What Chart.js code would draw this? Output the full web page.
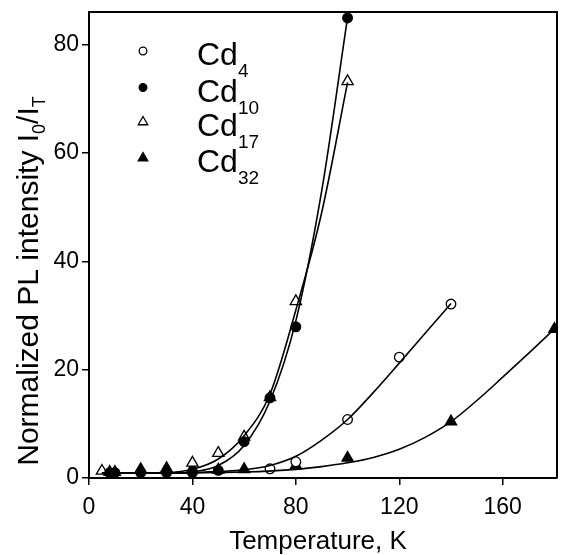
<!DOCTYPE html>
<html><head><meta charset="utf-8">
<script src="https://cdn.jsdelivr.net/npm/chart.js@4.4.1/dist/chart.umd.min.js"></script>
<style>html,body{margin:0;padding:0;background:#fff}#wrap{width:561px;height:555px}</style>
</head><body><div id="wrap"><canvas id="c" width="561" height="555"></canvas></div>
<script>
// ---- data ----
const xTicks = [0, 40, 80, 120, 160];
const yTicks = [0, 20, 40, 60, 80];
const seriesSubs = ['4', '10', '17', '32'];

// measured points
const cd4T  = [70, 80, 100, 120, 140];
const cd4I  = [1.7, 3.0, 10.8, 22.3, 32.1];
const cd10T = [8, 10, 20, 30, 40, 50, 60, 70, 80, 100];
const cd10I = [1.0, 1.0, 1.0, 1.0, 1.0, 1.4, 6.7, 14.8, 27.9, 84.9];
const cd17T = [5, 40, 50, 60, 70, 80, 100];
const cd17I = [1.3, 2.8, 4.6, 7.6, 14.9, 32.6, 73.2];
const cd32T = [8, 10, 20, 30, 40, 50, 60, 80, 100, 140, 180];
const cd32I = [1.1, 1.1, 1.6, 1.8, 1.7, 1.5, 1.6, 2.3, 3.7, 10.4, 27.5];

// fitted curves
const fit4T  = [5, 40, 50, 60, 70, 80, 90, 100, 110, 120, 130, 140];
const fit4I  = [0.9, 1.0, 1.2, 1.5, 2.3, 4.0, 7.0, 10.8, 15.8, 21.2, 26.7, 32.2];
const fit10T = [5, 35, 40, 50, 60, 70, 80, 90, 100];
const fit10I = [0.9, 0.9, 1.1, 2.3, 6.0, 14.2, 29.0, 53.0, 85.0];
const fit17T = [5, 30, 40, 50, 60, 70, 80, 90, 100];
const fit17I = [0.9, 1.0, 1.6, 3.5, 7.8, 15.5, 31.0, 49.0, 73.0];
const fit32T = [5, 40, 60, 80, 90, 100, 110, 120, 130, 140, 150, 160, 170, 180];
const fit32I = [0.9, 0.95, 1.1, 1.6, 2.1, 2.8, 3.8, 5.3, 7.5, 10.4, 14.3, 18.6, 23.0, 27.5];

const pair = (xs, ys) => xs.map((x, i) => ({x: x, y: ys[i]}));
const FONT = '"Liberation Sans", Arial, Helvetica, sans-serif';

const markerStyles = [
  {pointStyle: 'circle',   radius: 4.8, backgroundColor: '#fff', borderColor: '#000', borderWidth: 1.3},
  {pointStyle: 'circle',   radius: 4.8, backgroundColor: '#000', borderColor: '#000', borderWidth: 1.3},
  {pointStyle: 'triangle', radius: 6.5, backgroundColor: '#fff', borderColor: '#000', borderWidth: 1.3},
  {pointStyle: 'triangle', radius: 6.5, backgroundColor: '#000', borderColor: '#000', borderWidth: 1.3}
];

function curve(xs, ys) {
  return {type: 'line', data: pair(xs, ys), borderColor: '#000', borderWidth: 1.6,
    pointRadius: 0, fill: false, cubicInterpolationMode: 'monotone', showLine: true};
}
function marks(xs, ys, m) {
  return {type: 'scatter', data: pair(xs, ys), showLine: false,
    pointStyle: m.pointStyle, pointRadius: m.radius, pointBackgroundColor: m.backgroundColor,
    pointBorderColor: m.borderColor, pointBorderWidth: m.borderWidth};
}

function drawRich(ctx, parts, x, y, align) {
  let total = 0;
  parts.forEach(p => { ctx.font = p.size + 'px ' + FONT; total += ctx.measureText(p.t).width; });
  let cx = align === 'center' ? x - total / 2 : x;
  parts.forEach(p => {
    ctx.font = p.size + 'px ' + FONT;
    ctx.fillText(p.t, cx, y + (p.dy || 0));
    cx += ctx.measureText(p.t).width;
  });
}

const decor = {
  id: 'decor',
  afterDraw(chart) {
    const ctx = chart.ctx, a = chart.chartArea;
    ctx.save();
    ctx.strokeStyle = '#000'; ctx.lineWidth = 2;
    ctx.beginPath();
    ctx.moveTo(a.left, a.top); ctx.lineTo(a.right, a.top); ctx.lineTo(a.right, a.bottom);
    ctx.stroke();
    ctx.fillStyle = '#000';
    ctx.textBaseline = 'alphabetic';
    drawRich(ctx, [{t: 'Temperature, K', size: 26}], 318, 549, 'center');
    ctx.save();
    ctx.translate(38, 281);
    ctx.rotate(-Math.PI / 2);
    drawRich(ctx, [
      {t: 'Normalized PL intensity I', size: 30},
      {t: '0', size: 18, dy: 7},
      {t: '/I', size: 30},
      {t: 'T', size: 18, dy: 7}
    ], 0, 0, 'center');
    ctx.restore();
    const rowsY = [51, 87.5, 122, 158];
    seriesSubs.forEach((s, i) => {
      const m = markerStyles[i];
      ctx.save();
      ctx.fillStyle = m.backgroundColor; ctx.strokeStyle = m.borderColor; ctx.lineWidth = m.borderWidth;
      Chart.helpers.drawPoint(ctx, {pointStyle: m.pointStyle, radius: m.radius - 1, borderWidth: m.borderWidth, rotation: 0}, 143, rowsY[i]);
      ctx.restore();
      ctx.fillStyle = '#000';
      drawRich(ctx, [{t: 'Cd', size: 32}, {t: s, size: 19, dy: 12}], 197, rowsY[i] + 14, 'left');
    });
    ctx.restore();
  }
};

function zeroPad(s) { s.paddingTop = 0; s.paddingBottom = 0; s.paddingLeft = 0; s.paddingRight = 0; }

const axisCommon = {
  type: 'linear',
  grid: {display: true, drawOnChartArea: false, drawTicks: true, tickLength: 7, color: '#000', lineWidth: 1.5},
  border: {display: true, color: '#000', width: 2},
  ticks: {color: '#000', font: {family: FONT, size: 23}, padding: 3}
};

new Chart(document.getElementById('c'), {
  data: {
    datasets: [
      curve(fit4T, fit4I), curve(fit10T, fit10I), curve(fit17T, fit17I), curve(fit32T, fit32I),
      marks(cd4T, cd4I, markerStyles[0]),
      marks(cd10T, cd10I, markerStyles[1]),
      marks(cd17T, cd17I, markerStyles[2]),
      marks(cd32T, cd32I, markerStyles[3])
    ]
  },
  options: {
    responsive: false, animation: false, devicePixelRatio: 1,
    layout: {autoPadding: false, padding: {top: 12, right: 4, left: 0, bottom: 0}},
    plugins: {legend: {display: false}, tooltip: {enabled: false}},
    scales: {
      x: Object.assign({}, axisCommon, {
        position: 'bottom', min: 0, max: 181,
        ticks: Object.assign({}, axisCommon.ticks, {padding: 9}),
        afterBuildTicks: s => { s.ticks = xTicks.map(v => ({value: v})); },
        afterFit: s => { s.height = 77; zeroPad(s); }
      }),
      y: Object.assign({}, axisCommon, {
        position: 'left', min: 0, max: 86,
        afterBuildTicks: s => { s.ticks = yTicks.map(v => ({value: v})); },
        afterFit: s => { s.width = 89; zeroPad(s); }
      })
    }
  },
  plugins: [decor]
});
</script></body></html>
